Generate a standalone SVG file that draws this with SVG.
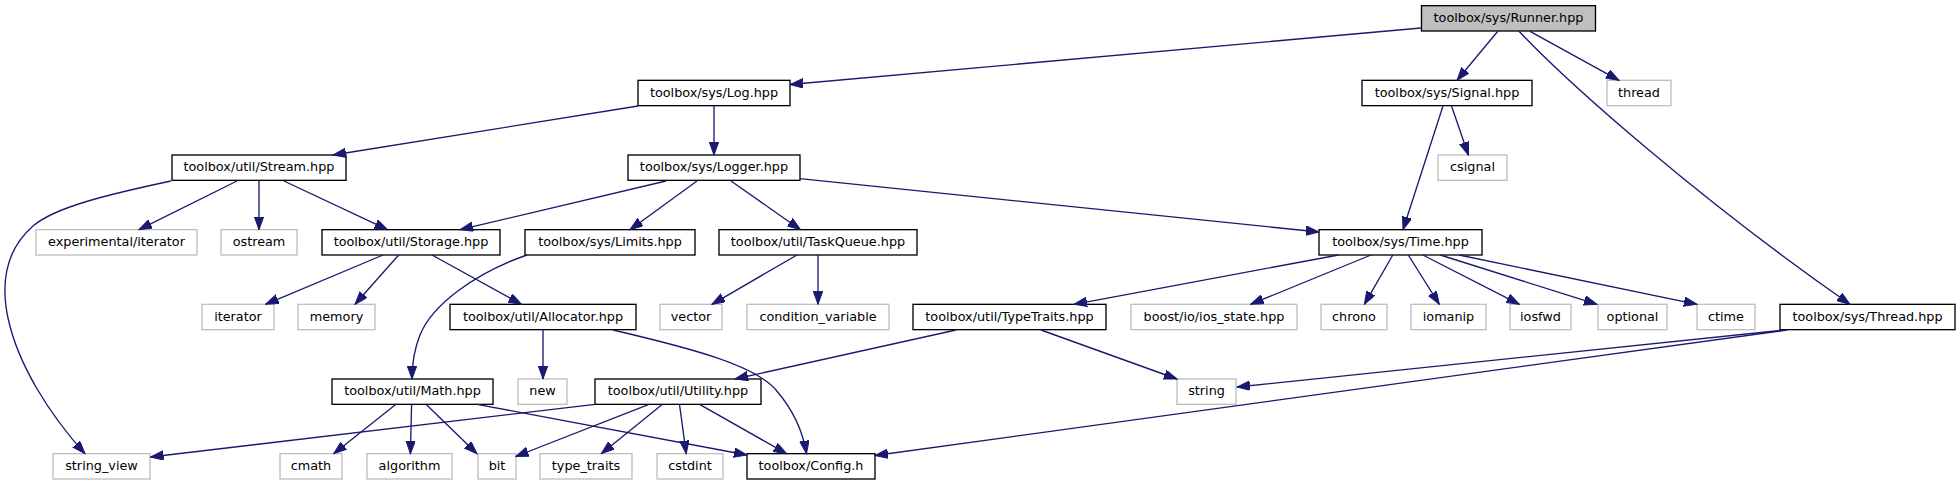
<svg xmlns="http://www.w3.org/2000/svg" width="1960" height="485" viewBox="0 0 1960 485">
<style>
  .box rect { fill: #ffffff; stroke: #000000; stroke-width: 1.33; }
  .ext rect { fill: #ffffff; stroke: #bfbfbf; stroke-width: 1.33; }
  .root rect { fill: #bfbfbf; stroke: #000000; stroke-width: 1.33; }
  text { font-family: "DejaVu Sans", "Liberation Sans", sans-serif; font-size: 12.8px; fill: #000000; text-anchor: middle; }
  #connectors path { fill: none; stroke: #191970; stroke-width: 1.33; marker-end: url(#arrow); }
</style>
<defs>
  <marker id="arrow" markerUnits="userSpaceOnUse" markerWidth="14" markerHeight="10" refX="13" refY="4.7" orient="auto">
    <path d="M0,0 L13,4.7 L0,9.4 z" fill="#191970" stroke="#191970" stroke-width="1"/>
  </marker>
</defs>
<rect x="0" y="0" width="1960" height="485" fill="#ffffff"/>

<g id="nodes">
  <g id="n_runner" class="root"><rect x="1421.5" y="5.67" width="174" height="25.33"/><text x="1508.5" y="22">toolbox/sys/Runner.hpp</text></g>
  <g id="n_log" class="box"><rect x="638" y="80.33" width="152" height="25.33"/><text x="714" y="96.6">toolbox/sys/Log.hpp</text></g>
  <g id="n_signal" class="box"><rect x="1362" y="80.33" width="170" height="25.33"/><text x="1447" y="96.6">toolbox/sys/Signal.hpp</text></g>
  <g id="n_thread_std" class="ext"><rect x="1607" y="80.33" width="64" height="25.33"/><text x="1639" y="96.6">thread</text></g>
  <g id="n_stream" class="box"><rect x="172" y="155" width="174" height="25.33"/><text x="259" y="171.3">toolbox/util/Stream.hpp</text></g>
  <g id="n_logger" class="box"><rect x="628" y="155" width="172" height="25.33"/><text x="714" y="171.3">toolbox/sys/Logger.hpp</text></g>
  <g id="n_csignal" class="ext"><rect x="1438" y="155" width="69" height="25.33"/><text x="1472.5" y="171.3">csignal</text></g>
  <g id="n_expiter" class="ext"><rect x="36" y="229.67" width="161" height="25.33"/><text x="116.5" y="246">experimental/iterator</text></g>
  <g id="n_ostream" class="ext"><rect x="221" y="229.67" width="76" height="25.33"/><text x="259" y="246">ostream</text></g>
  <g id="n_storage" class="box"><rect x="322" y="229.67" width="178" height="25.33"/><text x="411" y="246">toolbox/util/Storage.hpp</text></g>
  <g id="n_limits" class="box"><rect x="525" y="229.67" width="170" height="25.33"/><text x="610" y="246">toolbox/sys/Limits.hpp</text></g>
  <g id="n_taskqueue" class="box"><rect x="719" y="229.67" width="198" height="25.33"/><text x="818" y="246">toolbox/util/TaskQueue.hpp</text></g>
  <g id="n_time" class="box"><rect x="1319" y="229.67" width="163" height="25.33"/><text x="1400.5" y="246">toolbox/sys/Time.hpp</text></g>
  <g id="n_iterator" class="ext"><rect x="202" y="304.33" width="72" height="25.33"/><text x="238" y="320.6">iterator</text></g>
  <g id="n_memory" class="ext"><rect x="298" y="304.33" width="77" height="25.33"/><text x="336.5" y="320.6">memory</text></g>
  <g id="n_allocator" class="box"><rect x="450" y="304.33" width="186" height="25.33"/><text x="543" y="320.6">toolbox/util/Allocator.hpp</text></g>
  <g id="n_vector" class="ext"><rect x="660" y="304.33" width="62" height="25.33"/><text x="691" y="320.6">vector</text></g>
  <g id="n_condvar" class="ext"><rect x="747" y="304.33" width="142" height="25.33"/><text x="818" y="320.6">condition_variable</text></g>
  <g id="n_typetraits" class="box"><rect x="913" y="304.33" width="193" height="25.33"/><text x="1009.5" y="320.6">toolbox/util/TypeTraits.hpp</text></g>
  <g id="n_boost" class="ext"><rect x="1131" y="304.33" width="166" height="25.33"/><text x="1214" y="320.6">boost/io/ios_state.hpp</text></g>
  <g id="n_chrono" class="ext"><rect x="1321" y="304.33" width="66" height="25.33"/><text x="1354" y="320.6">chrono</text></g>
  <g id="n_iomanip" class="ext"><rect x="1411" y="304.33" width="75" height="25.33"/><text x="1448.5" y="320.6">iomanip</text></g>
  <g id="n_iosfwd" class="ext"><rect x="1510" y="304.33" width="61" height="25.33"/><text x="1540.5" y="320.6">iosfwd</text></g>
  <g id="n_optional" class="ext"><rect x="1598" y="304.33" width="69" height="25.33"/><text x="1632.5" y="320.6">optional</text></g>
  <g id="n_ctime" class="ext"><rect x="1697" y="304.33" width="58" height="25.33"/><text x="1726" y="320.6">ctime</text></g>
  <g id="n_thread" class="box"><rect x="1780" y="304.33" width="175" height="25.33"/><text x="1867.5" y="320.6">toolbox/sys/Thread.hpp</text></g>
  <g id="n_math" class="box"><rect x="332" y="379" width="161" height="25.33"/><text x="412.5" y="395.3">toolbox/util/Math.hpp</text></g>
  <g id="n_new" class="ext"><rect x="518" y="379" width="49" height="25.33"/><text x="542.5" y="395.3">new</text></g>
  <g id="n_utility" class="box"><rect x="595" y="379" width="166" height="25.33"/><text x="678" y="395.3">toolbox/util/Utility.hpp</text></g>
  <g id="n_string" class="ext"><rect x="1177" y="379" width="59" height="25.33"/><text x="1206.5" y="395.3">string</text></g>
  <g id="n_stringview" class="ext"><rect x="53" y="453.67" width="97" height="25.33"/><text x="101.5" y="470">string_view</text></g>
  <g id="n_cmath" class="ext"><rect x="280" y="453.67" width="62" height="25.33"/><text x="311" y="470">cmath</text></g>
  <g id="n_algorithm" class="ext"><rect x="367" y="453.67" width="85" height="25.33"/><text x="409.5" y="470">algorithm</text></g>
  <g id="n_bit" class="ext"><rect x="478" y="453.67" width="38" height="25.33"/><text x="497" y="470">bit</text></g>
  <g id="n_type_traits" class="ext"><rect x="540" y="453.67" width="92" height="25.33"/><text x="586" y="470">type_traits</text></g>
  <g id="n_cstdint" class="ext"><rect x="657" y="453.67" width="66" height="25.33"/><text x="690" y="470">cstdint</text></g>
  <g id="n_config" class="box"><rect x="747" y="453.67" width="128" height="25.33"/><text x="811" y="470">toolbox/Config.h</text></g>
</g>

<g id="connectors">
  <path d="M1421,28 L790,84.5"/>
  <path d="M1498,31 L1457,80.3"/>
  <path d="M1530,31.3 L1619,80.3"/>
  <path d="M1519,31.3 C1570,85 1700,200 1850,304.3"/>
  <path d="M638,106 L333,155"/>
  <path d="M714,106 L714,155"/>
  <path d="M171,181 C110,194 55,207 33,226 C8,248 0,280 8,318 C18,365 50,415 85,453.7"/>
  <path d="M237,181 L139,229.7"/>
  <path d="M259,181 L259,229.7"/>
  <path d="M284,181 L387.5,229.7"/>
  <path d="M666,181 L460,229.7"/>
  <path d="M697,181 L630,229.7"/>
  <path d="M731,181 L800.5,229.7"/>
  <path d="M800,178.7 L1319,232"/>
  <path d="M1443,106 L1403,229.7"/>
  <path d="M1451.5,106 L1468.4,155"/>
  <path d="M383,255 L265.6,304.3"/>
  <path d="M398.7,255 L355,304.3"/>
  <path d="M432,255 L521.4,304.3"/>
  <path d="M527,255 C475,273 432,305 420,335 C414,350 412,365 412,379"/>
  <path d="M797,255 L712,304.3"/>
  <path d="M818,255 L818,304.3"/>
  <path d="M1338.5,255 L1074,304.3"/>
  <path d="M1371,255 L1250.7,304.3"/>
  <path d="M1392.8,255 L1364.4,304.3"/>
  <path d="M1408.3,255 L1439.3,304.3"/>
  <path d="M1422.8,255 L1519.4,304.3"/>
  <path d="M1440.3,255 L1597,304.3"/>
  <path d="M1459,255 L1697,304.3"/>
  <path d="M1785,330 L1237,387"/>
  <path d="M1787,330 L875,455.5"/>
  <path d="M543,330 L543,379"/>
  <path d="M613,330 C690,348 755,365 776,390 C795,412 803,432 806.5,453.7"/>
  <path d="M956,330 L735,379"/>
  <path d="M1041,330 L1177,379"/>
  <path d="M396,404.3 L333.7,453.7"/>
  <path d="M411.6,404.3 L410.4,453.7"/>
  <path d="M426,404.3 L477,453.7"/>
  <path d="M477,404.3 L747,455"/>
  <path d="M595,404.3 L150.5,457"/>
  <path d="M649,404.3 L515.7,456.5"/>
  <path d="M662.5,404.3 L601.3,453.7"/>
  <path d="M679.5,404.3 L686.2,453.7"/>
  <path d="M699.6,404.3 L786.6,453.7"/>
</g>
</svg>
